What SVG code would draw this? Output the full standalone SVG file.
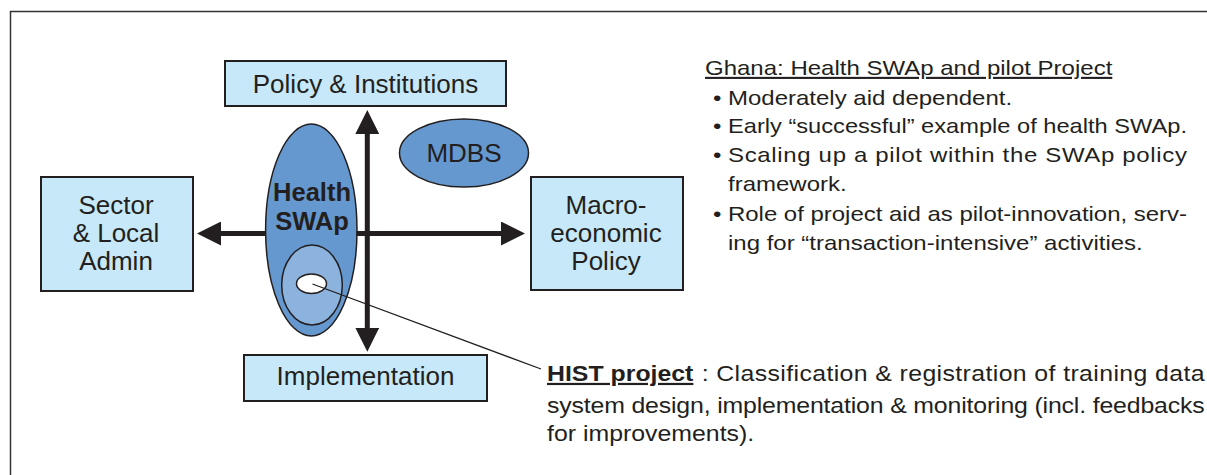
<svg xmlns="http://www.w3.org/2000/svg" width="1207" height="475" viewBox="0 0 1207 475">
<defs>
<style>
.box{fill:#c6e8f8;stroke:#231f20;stroke-width:2}
.lbl{font-family:"Liberation Sans",Arial,Helvetica,sans-serif;font-size:26px;fill:#231f20;text-anchor:middle}
.bold{font-weight:bold}
.txt{font-family:"Liberation Sans",Arial,Helvetica,sans-serif;font-size:21px;fill:#231f20}
.htxt{font-family:"Liberation Sans",Arial,Helvetica,sans-serif;font-size:22px;fill:#231f20}
.arrow{stroke:#231f20;stroke-width:5;fill:none}
.ell{stroke:#231f20;stroke-width:1.5}
.lead{stroke:#231f20;stroke-width:1.3;fill:none}
</style>
<marker id="ah" viewBox="0 0 24 24" markerWidth="24" markerHeight="24" refX="18" refY="12" orient="auto-start-reverse" markerUnits="userSpaceOnUse">
<path d="M0,0 L24,12 L0,24 z" fill="#231f20"/>
</marker>
</defs>
<rect width="1207" height="475" fill="#ffffff"/>
<rect id="frame" x="10.5" y="11.5" width="1260" height="520" fill="none" stroke="#333333" stroke-width="1.5"/>

<g id="policy">
<rect class="box" x="225" y="61" width="281" height="45"/>
<text class="lbl" x="365.5" y="93">Policy &amp; Institutions</text>
</g>
<g id="sector">
<rect class="box" x="41" y="177" width="152" height="114"/>
<text class="lbl" x="116" y="214">Sector</text>
<text class="lbl" x="116" y="242">&amp; Local</text>
<text class="lbl" x="116" y="270">Admin</text>
</g>
<g id="macro">
<rect class="box" x="531" y="177" width="152" height="113"/>
<text class="lbl" x="606" y="214">Macro-</text>
<text class="lbl" x="606" y="242">economic</text>
<text class="lbl" x="606" y="270">Policy</text>
</g>
<g id="implementation">
<rect class="box" x="244" y="355" width="243" height="46"/>
<text class="lbl" x="365.5" y="385">Implementation</text>
</g>
<g id="mdbs">
<ellipse class="ell" cx="464" cy="153" rx="64.5" ry="34" fill="#6498cf"/>
<text class="lbl" x="464" y="162">MDBS</text>
</g>
<g id="health-swap">
<ellipse class="ell" cx="311.3" cy="230" rx="45.7" ry="106" fill="#6498cf"/>
<ellipse class="ell" cx="312" cy="285" rx="30.3" ry="40" fill="#8cb2de"/>
<ellipse class="ell" cx="311.5" cy="283.7" rx="15" ry="9.7" fill="#ffffff"/>
<text class="lbl bold" x="312" y="201" style="font-size:25.5px">Health</text>
<text class="lbl bold" x="312" y="230" style="font-size:25.5px">SWAp</text>
</g>

<g id="notes" transform="translate(705 0) scale(1.143 1)">
<text class="txt" x="0" y="75" text-decoration="underline">Ghana: Health SWAp and pilot Project</text>
<text class="txt" x="7" y="105">•</text>
<text class="txt" x="20.1" y="105">Moderately aid dependent.</text>
<text class="txt" x="7" y="133">•</text>
<text class="txt" x="20.1" y="133" textLength="401.6" lengthAdjust="spacingAndGlyphs">Early “successful” example of health SWAp.</text>
<text class="txt" x="7" y="162">•</text>
<text class="txt" x="20.1" y="162" textLength="401.6" lengthAdjust="spacing">Scaling up a pilot within the SWAp policy</text>
<text class="txt" x="20.1" y="191">framework.</text>
<text class="txt" x="7" y="221">•</text>
<text class="txt" x="20.1" y="221" textLength="401.6" lengthAdjust="spacing">Role of project aid as pilot-innovation, serv-</text>
<text class="txt" x="20.1" y="250">ing for “transaction-intensive” activities.</text>
</g>

<g id="hist" transform="translate(547 0) scale(1.13 1)">
<text class="htxt bold" x="0" y="381" text-decoration="underline">HIST project</text>
<text class="htxt" x="136.9" y="381" textLength="445" lengthAdjust="spacing">: Classification &amp; registration of training data</text>
<text class="htxt" x="0" y="413" textLength="582" lengthAdjust="spacing">system design, implementation &amp; monitoring (incl. feedbacks</text>
<text class="htxt" x="0" y="441">for improvements).</text>
</g>

<g id="connectors">
<line class="arrow" x1="203" y1="233.5" x2="266" y2="233.5" marker-start="url(#ah)"/>
<line class="arrow" x1="356.5" y1="233.5" x2="519" y2="233.5" marker-end="url(#ah)"/>
<line class="arrow" x1="367.3" y1="116" x2="367.3" y2="345.7" marker-start="url(#ah)" marker-end="url(#ah)"/>
<line class="lead" x1="312.5" y1="284" x2="541" y2="369"/>
</g>
</svg>
